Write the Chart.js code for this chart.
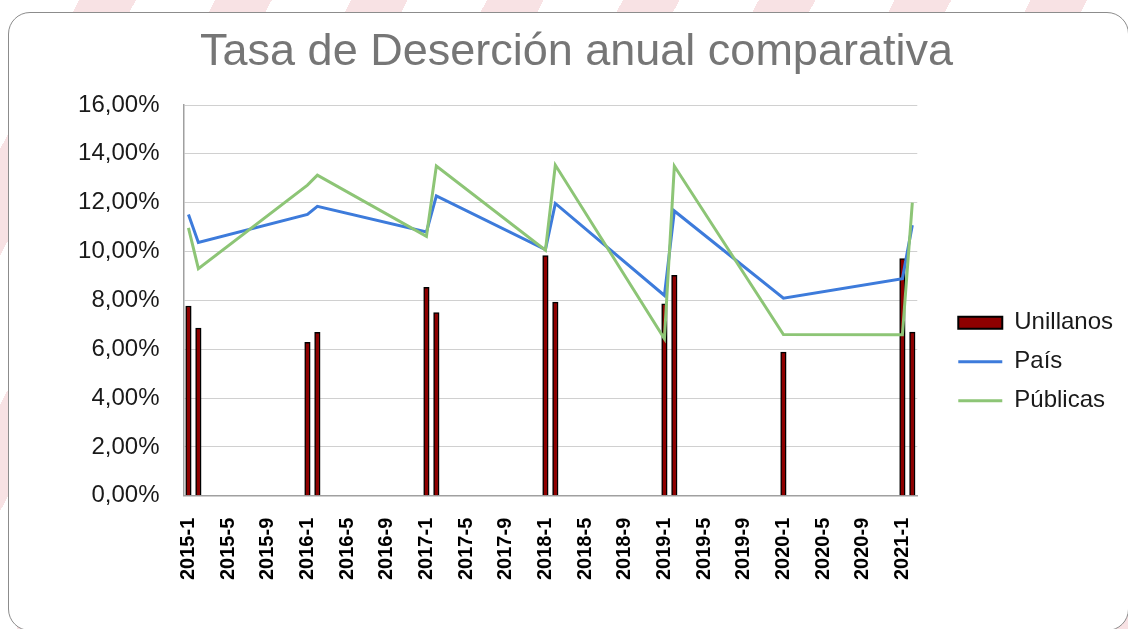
<!DOCTYPE html>
<html>
<head>
<meta charset="utf-8">
<script src="https://cdn.jsdelivr.net/npm/chart.js"></script>
<style>
html,body{margin:0;padding:0;width:1128px;height:629px;overflow:hidden;}
body{position:relative;background:repeating-linear-gradient(118deg,#ffffff 0px,#ffffff 70px,#f8e2e4 70px,#f8e2e4 120px);}
#card{position:absolute;left:8px;top:12px;width:1121px;height:619px;background:#fff;border:1px solid #8c8c8c;border-radius:22px;box-sizing:border-box;}
#myChart{position:absolute;left:0;top:0;}
</style>
</head>
<body>
<div id="card"></div>
<canvas id="myChart" width="1128" height="629"></canvas>
<script>
// periodos (semestres) leidos como fechas mensuales, igual que el eje de Excel
var periodos = ['2015-1','2015-2','2016-1','2016-2','2017-1','2017-2','2018-1','2018-2','2019-1','2019-2','2020-1','2021-1','2021-2'];
var unillanos = [7.77, 6.86, 6.28, 6.69, 8.53, 7.50, 9.83, 7.93, 7.86, 9.03, 5.88, 9.71, 6.70];
var pais      = [11.52, 10.37, 11.52, 11.85, 10.80, 12.28, 10.08, 11.97, 8.20, 11.66, 8.09, 8.89, 11.08];
var publicas  = [10.97, 9.30, 12.72, 13.13, 10.62, 13.50, 10.05, 13.54, 6.43, 13.50, 6.60, 6.59, 12.00];
var tickLabels = ['2015-1','2015-5','2015-9','2016-1','2016-5','2016-9','2017-1','2017-5','2017-9','2018-1','2018-5','2018-9','2019-1','2019-5','2019-9','2020-1','2020-5','2020-9','2021-1'];

function mesIndex(p){
    var s = p.split('-');
    return (parseInt(s[0]) - 2015) * 12 + parseInt(s[1]) - 1;
}
function puntos(vals){
    var out = [];
    for(var i=0; i<periodos.length; i++){
        out.push({x: mesIndex(periodos[i]), y: vals[i]});
    }
    return out;
}

var fuente = "'Liberation Sans', Arial, sans-serif";

var ctx = document.getElementById('myChart');
var myChart = new Chart(ctx, {
    type: 'bar',
    data: {
        datasets: [
        {
            label: 'Unillanos',
            data: puntos(unillanos),
            backgroundColor: '#8e0000',
            borderColor: '#000000',
            borderWidth: 1.5,
            barThickness: 5.5,
            order: 3
        },
        {
            type: 'line',
            label: 'País',
            data: puntos(pais),
            borderColor: '#3d7bdb',
            backgroundColor: '#3d7bdb',
            borderWidth: 3,
            pointRadius: 0,
            tension: 0,
            order: 2
        },
        {
            type: 'line',
            label: 'Públicas',
            data: puntos(publicas),
            borderColor: '#8dc576',
            backgroundColor: '#8dc576',
            borderWidth: 3,
            pointRadius: 0,
            tension: 0,
            order: 1
        }
        ]
    },
    options: {
        responsive: false,
        animation: false,
        devicePixelRatio: 1,
        layout: {padding: {left: 30, right: 5, top: 0, bottom: 35}},
        plugins: {
            title: {
                display: true,
                text: 'Tasa de Deserción anual comparativa',
                color: '#767676',
                font: {family: fuente, size: 45, weight: 'normal'},
                padding: {top: 26, bottom: 25}
            },
            legend: {
                position: 'right',
                title: {display: true, text: '', font: {size: 12}, padding: {top: 0, bottom: 115}},
                labels: {
                    usePointStyle: true,
                    pointStyleWidth: 44,
                    boxHeight: 12,
                    padding: 15,
                    color: '#1a1a1a',
                    font: {family: fuente, size: 24},
                    generateLabels: function(chart){
                        return chart.data.datasets.map(function(ds, i){
                            var esLinea = ds.type === 'line';
                            return {
                                text: ds.label,
                                fillStyle: esLinea ? ds.borderColor : ds.backgroundColor,
                                strokeStyle: esLinea ? ds.borderColor : '#000000',
                                lineWidth: esLinea ? 3 : 2,
                                pointStyle: esLinea ? 'line' : 'rect',
                                fontColor: '#1a1a1a',
                                hidden: false,
                                datasetIndex: i
                            };
                        });
                    }
                }
            },
            tooltip: {enabled: false}
        },
        scales: {
            x: {
                type: 'linear',
                min: -0.5,
                max: 73.5,
                offset: false,
                grid: {display: false},
                border: {display: true, color: '#a0a0a0', width: 1.5},
                afterBuildTicks: function(axis){
                    axis.ticks = tickLabels.map(function(l){ return {value: mesIndex(l)}; });
                },
                ticks: {
                    autoSkip: false,
                    minRotation: 90,
                    maxRotation: 90,
                    padding: 14,
                    color: '#000000',
                    font: {family: fuente, size: 20, weight: 'bold'},
                    callback: function(v, i){ return tickLabels[i]; }
                }
            },
            y: {
                min: 0,
                max: 16,
                grid: {color: '#d0d0d0', lineWidth: 1, drawTicks: false},
                border: {display: true, color: '#a0a0a0', width: 1.5},
                afterFit: function(scale){ scale.width = 153.5; },
                ticks: {
                    stepSize: 2,
                    padding: 24,
                    color: '#1a1a1a',
                    font: {family: fuente, size: 24},
                    callback: function(v){ return v.toFixed(2).replace('.', ',') + '%'; }
                }
            },
            y2: {
                position: 'right',
                display: true,
                grid: {display: false},
                border: {display: false},
                ticks: {display: false},
                afterFit: function(scale){ scale.width = 26; }
            }
        }
    }
});
</script>
</body>
</html>
